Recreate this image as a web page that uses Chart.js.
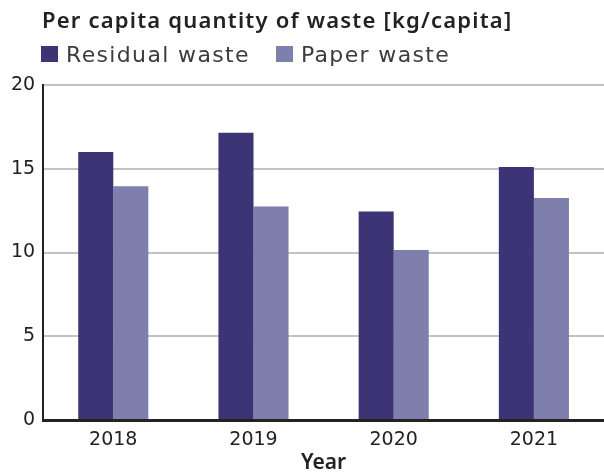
<!DOCTYPE html>
<html>
<head>
<meta charset="utf-8">
<script src="https://cdn.jsdelivr.net/npm/chart.js@4"></script>
<style>
  html, body { margin: 0; padding: 0; background: #fff; }
  #wrap { position: relative; width: 604px; height: 473px; }
  #title {
    position: absolute; left: 42px; top: 4px; line-height: 30px;
    font: 600 22px "Noto Sans", sans-serif; letter-spacing: 1.2px; color: #222;
    white-space: nowrap;
  }
  #legend {
    position: absolute; left: 41px; top: 38px; height: 32px;
    display: flex; align-items: center;
    font: 22px "DejaVu Sans", sans-serif; letter-spacing: 1.35px; color: #3c3c3c;
    white-space: nowrap;
  }
  #legend .item { display: flex; align-items: center; margin-right: 26px; }
  #legend .box { width: 17px; height: 16px; margin-right: 8px; }
  canvas { position: absolute; left: 0; top: 0; }
</style>
</head>
<body>
<div id="wrap">
  <canvas id="wasteChart" width="604" height="473"></canvas>
  <div id="title">Per capita quantity of waste [kg/capita]</div>
  <div id="legend"></div>
</div>
<script>
// per capita quantities
const years = ["2018", "2019", "2020", "2021"];
const residualWaste = [16.0, 17.15, 12.45, 15.1];
const paperWaste = [13.95, 12.75, 10.15, 13.25];
const yTicks = [0, 5, 10, 15, 20];

const chart = new Chart(document.getElementById("wasteChart"), {
    type: "bar",
    data: {
        labels: years,
        datasets: [
            {
                label: "Residual waste",
                data: residualWaste,
                backgroundColor: "#3d3475"
            },
            {
                label: "Paper waste",
                data: paperWaste,
                backgroundColor: "#7f7fad"
            }
        ]
    },
    options: {
        responsive: false,
        animation: false,
        layout: { padding: { top: 85, left: 3, right: 0, bottom: -1 } },
        plugins: {
            legend: { display: false },
            tooltip: { enabled: false }
        },
        datasets: {
            bar: { barPercentage: 1, categoryPercentage: 0.5 }
        },
        scales: {
            x: {
                grid: { display: false },
                border: { color: "#222", width: 3 },
                ticks: {
                    color: "#222",
                    padding: 3,
                    font: { family: "DejaVu Sans", size: 19, lineHeight: 1 }
                },
                title: {
                    display: true,
                    text: "Year",
                    color: "#222",
                    padding: { top: 0, bottom: 0 },
                    font: { family: "Noto Sans", size: 21, weight: "600", lineHeight: 1 }
                }
            },
            y: {
                min: 0,
                max: 20,
                afterBuildTicks: (axis) => {
                    axis.ticks = yTicks.map(v => ({ value: v }));
                },
                grid: { color: "#c2c2c8", lineWidth: 2, drawTicks: false },
                border: { color: "#222", width: 2 },
                ticks: {
                    color: "#222",
                    padding: 8,
                    font: { family: "DejaVu Sans", size: 19 }
                }
            }
        }
    }
});

// legend built from the chart's datasets
const legendEl = document.getElementById("legend");
chart.data.datasets.forEach(ds => {
    const item = document.createElement("div");
    item.className = "item";
    const box = document.createElement("span");
    box.className = "box";
    box.style.background = ds.backgroundColor;
    item.appendChild(box);
    item.appendChild(document.createTextNode(ds.label));
    legendEl.appendChild(item);
});
</script>
</body>
</html>
